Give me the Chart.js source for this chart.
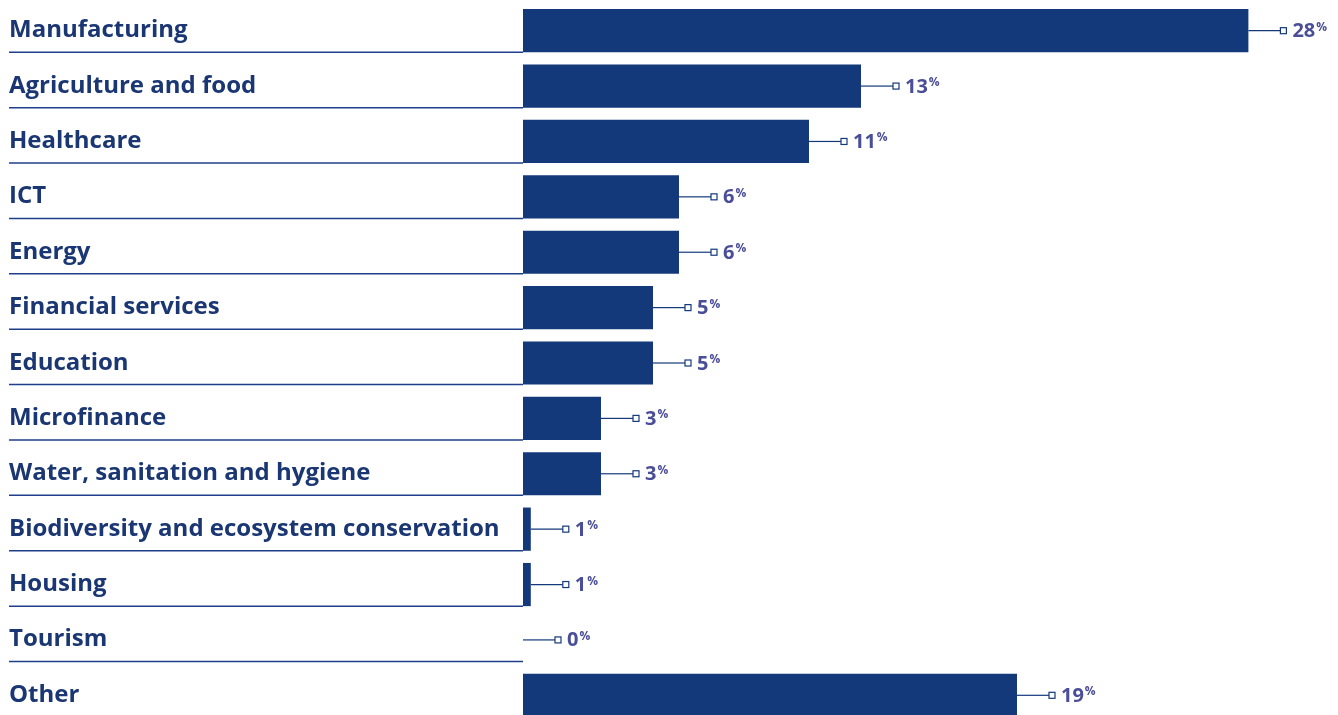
<!DOCTYPE html>
<html lang="en">
<head>
    <meta charset="UTF-8">
    <title>Sectors</title>
    <style>
        html, body {
            margin: 0;
            padding: 0;
            background: #ffffff;
            overflow: hidden;
        }

        .chart-box {
            position: relative;
            width: 1338px;
            height: 723px;
        }
    </style>
</head>
<body>

    <div class="chart-box">
        <canvas id="sectorChart"></canvas>
    </div>

    <script src="https://cdn.jsdelivr.net/npm/chart.js@4.4.0/dist/chart.umd.min.js"></script>
    <script>
    // Danh mục và giá trị (độ dài thanh)
    const categories = [
        'Manufacturing', 'Agriculture and food', 'Healthcare', 'ICT', 'Energy',
        'Financial services', 'Education', 'Microfinance', 'Water, sanitation and hygiene',
        'Biodiversity and ecosystem conservation', 'Housing', 'Tourism', 'Other'
    ];
    const shares = [27.9, 13, 11, 6, 6, 5, 5, 3, 3, 0.3, 0.3, 0, 19];
    const shareLabels = ['28', '13', '11', '6', '6', '5', '5', '3', '3', '1', '1', '0', '19'];

    const navy = '#13397b';
    const labelColor = '#1a3673';
    const valueColor = '#4a4e98';

    // Vẽ nhãn bên trái, đường gạch chân, đường dẫn và giá trị
    const decorations = {
        id: 'decorations',
        afterDatasetsDraw(chart) {
            const ctx = chart.ctx;
            const meta = chart.getDatasetMeta(0);
            const x0 = chart.scales.x.getPixelForValue(0);
            ctx.save();
            meta.data.forEach((bar, i) => {
                const y = bar.y;
                const half = bar.height / 2;

                // nhãn danh mục
                ctx.fillStyle = labelColor;
                ctx.font = 'bold 24px "Open Sans"';
                ctx.textAlign = 'left';
                ctx.textBaseline = 'alphabetic';
                ctx.fillText(categories[i], 9, y + 6.5);

                // gạch chân
                ctx.strokeStyle = '#1f3f8a';
                ctx.lineWidth = 1.5;
                ctx.beginPath();
                ctx.moveTo(9, y + half);
                ctx.lineTo(x0, y + half);
                ctx.stroke();

                // đường dẫn + ô vuông nhỏ
                const xe = bar.x;
                ctx.strokeStyle = navy;
                ctx.lineWidth = 1.2;
                ctx.beginPath();
                ctx.moveTo(xe, y);
                ctx.lineTo(xe + 32, y);
                ctx.stroke();
                ctx.fillStyle = '#ffffff';
                ctx.fillRect(xe + 32, y - 3, 6, 6);
                ctx.strokeRect(xe + 32, y - 3, 6, 6);

                // giá trị với % nhỏ
                ctx.fillStyle = valueColor;
                ctx.font = 'bold 20px "Open Sans"';
                const tx = xe + 44;
                ctx.fillText(shareLabels[i], tx, y + 6.5);
                const w = ctx.measureText(shareLabels[i]).width;
                ctx.font = 'bold 12px "Open Sans"';
                ctx.fillText('%', tx + w + 1, y);
            });
            ctx.restore();
        }
    };

    const sectorChart = new Chart(document.getElementById('sectorChart'), {
        type: 'bar',
        data: {
            labels: categories,
            datasets: [{
                data: shares,
                backgroundColor: navy,
                borderWidth: 0,
                barPercentage: 0.78,
                categoryPercentage: 1.0
            }]
        },
        options: {
            indexAxis: 'y',
            responsive: true,
            maintainAspectRatio: false,
            animation: false,
            layout: { padding: { left: 523, right: 35, top: 3, bottom: 0 } },
            plugins: {
                legend: { display: false },
                tooltip: { enabled: false }
            },
            scales: {
                x: { display: false, min: 0, max: 30 },
                y: { display: false }
            }
        },
        plugins: [decorations]
    });
    </script>

</body>
</html>
